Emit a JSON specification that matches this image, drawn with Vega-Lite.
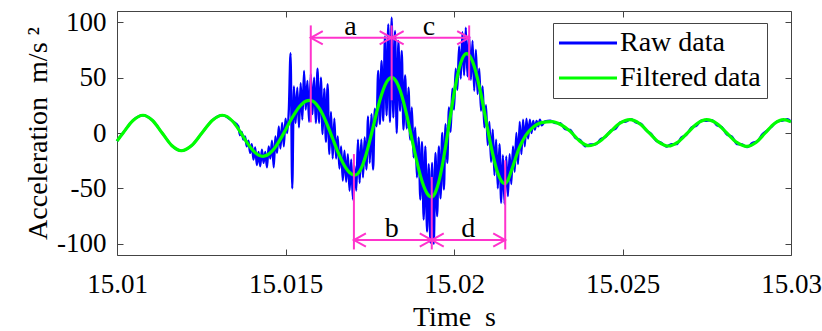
{
 "$schema": "https://vega.github.io/schema/vega-lite/v6.json",
 "width": 674, "height": 244,
 "autosize": {"type": "none"},
 "padding": {"left": 117, "top": 11, "right": 31, "bottom": 76},
 "background": "white",
 "config": {
  "view": {"stroke": "#444444", "strokeWidth": 1},
  "font": "Liberation Serif",
  "axis": {"labelFont": "Liberation Serif", "labelFontSize": 27, "labelColor": "#000000", "titleFont": "Liberation Serif", "titleFontSize": 28, "titleFontWeight": "normal", "titleColor": "#000000", "tickColor": "#444444", "tickWidth": 1, "tickSize": -6, "grid": false, "domain": false, "labelFlush": false, "labelOverlap": false, "labelBound": false}
 },
 "datasets": {
  "raw": [
   {"t":15.01,"v":-7.3,"s":"Raw data"},{"t":15.01018,"v":0,"s":"Raw data"},{"t":15.010475,"v":11.3,"s":"Raw data"},{"t":15.01077,"v":16,"s":"Raw data"},{"t":15.011055,"v":11.3,"s":"Raw data"},{"t":15.01134,"v":0,"s":"Raw data"},{"t":15.011625,"v":-11.3,"s":"Raw data"},{"t":15.01191,"v":-16,"s":"Raw data"},{"t":15.012215,"v":-11.3,"s":"Raw data"},{"t":15.01252,"v":0,"s":"Raw data"},{"t":15.012825,"v":11.3,"s":"Raw data"},{"t":15.01313,"v":16,"s":"Raw data"},{"t":15.01343,"v":10.6,"s":"Raw data"},
   {"t":15.0136,"v":6,"s":"Raw data"},{"t":15.01365,"v":-2,"s":"Raw data"},{"t":15.0137,"v":1,"s":"Raw data"},{"t":15.01375,"v":-6,"s":"Raw data"},{"t":15.0138,"v":-3,"s":"Raw data"},{"t":15.01385,"v":-12,"s":"Raw data"},{"t":15.0139,"v":-7,"s":"Raw data"},{"t":15.01395,"v":-18,"s":"Raw data"},
   {"t":15.014,"v":-10,"s":"Raw data"},{"t":15.01405,"v":-24,"s":"Raw data"},{"t":15.0141,"v":-13,"s":"Raw data"},{"t":15.01415,"v":-29,"s":"Raw data"},{"t":15.0142,"v":-17,"s":"Raw data"},{"t":15.01425,"v":-30,"s":"Raw data"},{"t":15.0143,"v":-15,"s":"Raw data"},{"t":15.01435,"v":-27,"s":"Raw data"},{"t":15.0144,"v":-17,"s":"Raw data"},{"t":15.01445,"v":-31,"s":"Raw data"},
   {"t":15.0145,"v":-12,"s":"Raw data"},{"t":15.01455,"v":-23,"s":"Raw data"},{"t":15.0146,"v":-7,"s":"Raw data"},{"t":15.01465,"v":-31,"s":"Raw data"},{"t":15.0147,"v":-3,"s":"Raw data"},{"t":15.01475,"v":-18,"s":"Raw data"},{"t":15.0148,"v":6,"s":"Raw data"},{"t":15.01485,"v":-14,"s":"Raw data"},{"t":15.0149,"v":9,"s":"Raw data"},{"t":15.01495,"v":-12,"s":"Raw data"},
   {"t":15.015,"v":13,"s":"Raw data"},{"t":15.01505,"v":0,"s":"Raw data"},{"t":15.0151,"v":22,"s":"Raw data"},{"t":15.01515,"v":72,"s":"Raw data"},{"t":15.0152,"v":-50,"s":"Raw data"},{"t":15.01525,"v":42,"s":"Raw data"},{"t":15.0153,"v":9,"s":"Raw data"},{"t":15.01535,"v":41,"s":"Raw data"},{"t":15.0154,"v":5,"s":"Raw data"},{"t":15.01545,"v":45,"s":"Raw data"},
   {"t":15.0155,"v":12,"s":"Raw data"},{"t":15.01555,"v":56,"s":"Raw data"},{"t":15.0156,"v":21,"s":"Raw data"},{"t":15.01565,"v":47,"s":"Raw data"},{"t":15.0157,"v":10,"s":"Raw data"},{"t":15.01575,"v":53,"s":"Raw data"},{"t":15.0158,"v":17,"s":"Raw data"},{"t":15.01585,"v":50,"s":"Raw data"},{"t":15.0159,"v":9,"s":"Raw data"},{"t":15.01595,"v":58,"s":"Raw data"},
   {"t":15.016,"v":9,"s":"Raw data"},{"t":15.01605,"v":50,"s":"Raw data"},{"t":15.0161,"v":-1,"s":"Raw data"},{"t":15.01615,"v":40,"s":"Raw data"},{"t":15.0162,"v":-8,"s":"Raw data"},{"t":15.01625,"v":44,"s":"Raw data"},{"t":15.0163,"v":-19,"s":"Raw data"},{"t":15.01635,"v":19,"s":"Raw data"},{"t":15.0164,"v":-23,"s":"Raw data"},{"t":15.01645,"v":13,"s":"Raw data"},
   {"t":15.0165,"v":-23,"s":"Raw data"},{"t":15.01655,"v":-3,"s":"Raw data"},{"t":15.0166,"v":-32,"s":"Raw data"},{"t":15.01665,"v":-12,"s":"Raw data"},{"t":15.0167,"v":-43,"s":"Raw data"},{"t":15.01675,"v":-16,"s":"Raw data"},{"t":15.0168,"v":-44,"s":"Raw data"},{"t":15.01685,"v":-19,"s":"Raw data"},{"t":15.0169,"v":-52,"s":"Raw data"},{"t":15.01695,"v":-24,"s":"Raw data"},
   {"t":15.017,"v":-60,"s":"Raw data"},{"t":15.01705,"v":-30,"s":"Raw data"},{"t":15.0171,"v":-52,"s":"Raw data"},{"t":15.01715,"v":-6,"s":"Raw data"},{"t":15.0172,"v":-45,"s":"Raw data"},{"t":15.01725,"v":-6,"s":"Raw data"},{"t":15.0173,"v":-40,"s":"Raw data"},{"t":15.01735,"v":-4,"s":"Raw data"},{"t":15.0174,"v":-33,"s":"Raw data"},{"t":15.01745,"v":15,"s":"Raw data"},
   {"t":15.0175,"v":-27,"s":"Raw data"},{"t":15.01755,"v":17,"s":"Raw data"},{"t":15.0176,"v":-33,"s":"Raw data"},{"t":15.01765,"v":22,"s":"Raw data"},{"t":15.0177,"v":6,"s":"Raw data"},{"t":15.01775,"v":56,"s":"Raw data"},{"t":15.0178,"v":8,"s":"Raw data"},{"t":15.01785,"v":65,"s":"Raw data"},{"t":15.0179,"v":11,"s":"Raw data"},{"t":15.01795,"v":87,"s":"Raw data"},
   {"t":15.018,"v":16,"s":"Raw data"},{"t":15.01805,"v":98,"s":"Raw data"},{"t":15.0181,"v":10,"s":"Raw data"},{"t":15.01815,"v":104,"s":"Raw data"},{"t":15.0182,"v":14,"s":"Raw data"},{"t":15.01825,"v":92,"s":"Raw data"},{"t":15.0183,"v":0,"s":"Raw data"},{"t":15.01835,"v":83,"s":"Raw data"},{"t":15.0184,"v":20,"s":"Raw data"},{"t":15.01845,"v":74,"s":"Raw data"},
   {"t":15.0185,"v":3,"s":"Raw data"},{"t":15.01855,"v":52,"s":"Raw data"},{"t":15.0186,"v":4,"s":"Raw data"},{"t":15.01865,"v":41,"s":"Raw data"},{"t":15.0187,"v":-6,"s":"Raw data"},{"t":15.01875,"v":23,"s":"Raw data"},{"t":15.0188,"v":-22,"s":"Raw data"},{"t":15.01885,"v":5,"s":"Raw data"},{"t":15.0189,"v":-40,"s":"Raw data"},{"t":15.01895,"v":-4,"s":"Raw data"},
   {"t":15.019,"v":-60,"s":"Raw data"},{"t":15.01905,"v":-8,"s":"Raw data"},{"t":15.0191,"v":-78,"s":"Raw data"},{"t":15.01915,"v":-12,"s":"Raw data"},{"t":15.0192,"v":-89,"s":"Raw data"},{"t":15.01925,"v":-28,"s":"Raw data"},{"t":15.0193,"v":-99,"s":"Raw data"},{"t":15.01935,"v":-27,"s":"Raw data"},{"t":15.0194,"v":-100,"s":"Raw data"},{"t":15.01945,"v":-18,"s":"Raw data"},
   {"t":15.0195,"v":-75,"s":"Raw data"},{"t":15.01955,"v":-12,"s":"Raw data"},{"t":15.0196,"v":-59,"s":"Raw data"},{"t":15.01965,"v":0,"s":"Raw data"},{"t":15.0197,"v":-51,"s":"Raw data"},{"t":15.01975,"v":8,"s":"Raw data"},{"t":15.0198,"v":-27,"s":"Raw data"},{"t":15.01985,"v":23,"s":"Raw data"},{"t":15.0199,"v":1,"s":"Raw data"},{"t":15.01995,"v":40,"s":"Raw data"},
   {"t":15.02,"v":21,"s":"Raw data"},{"t":15.02005,"v":58,"s":"Raw data"},{"t":15.0201,"v":39,"s":"Raw data"},{"t":15.02015,"v":78,"s":"Raw data"},{"t":15.0202,"v":49,"s":"Raw data"},{"t":15.02025,"v":91,"s":"Raw data"},{"t":15.0203,"v":52,"s":"Raw data"},{"t":15.02035,"v":95,"s":"Raw data"},{"t":15.0204,"v":51,"s":"Raw data"},{"t":15.02045,"v":88,"s":"Raw data"},
   {"t":15.0205,"v":48,"s":"Raw data"},{"t":15.02055,"v":83,"s":"Raw data"},{"t":15.0206,"v":38,"s":"Raw data"},{"t":15.02065,"v":75,"s":"Raw data"},{"t":15.0207,"v":35,"s":"Raw data"},{"t":15.02075,"v":58,"s":"Raw data"},{"t":15.0208,"v":20,"s":"Raw data"},{"t":15.02085,"v":42,"s":"Raw data"},{"t":15.0209,"v":5,"s":"Raw data"},{"t":15.02095,"v":25,"s":"Raw data"},
   {"t":15.021,"v":-11,"s":"Raw data"},{"t":15.02105,"v":10,"s":"Raw data"},{"t":15.0211,"v":-26,"s":"Raw data"},{"t":15.02115,"v":3,"s":"Raw data"},{"t":15.0212,"v":-38,"s":"Raw data"},{"t":15.02125,"v":-6,"s":"Raw data"},{"t":15.0213,"v":-50,"s":"Raw data"},{"t":15.02135,"v":-10,"s":"Raw data"},{"t":15.0214,"v":-63,"s":"Raw data"},{"t":15.02145,"v":-20,"s":"Raw data"},
   {"t":15.0215,"v":-64,"s":"Raw data"},{"t":15.02155,"v":-21,"s":"Raw data"},{"t":15.0216,"v":-57,"s":"Raw data"},{"t":15.02165,"v":-19,"s":"Raw data"},{"t":15.0217,"v":-46,"s":"Raw data"},{"t":15.02175,"v":-12,"s":"Raw data"},{"t":15.0218,"v":-35,"s":"Raw data"},{"t":15.02185,"v":0,"s":"Raw data"},{"t":15.0219,"v":-28,"s":"Raw data"},{"t":15.02195,"v":10,"s":"Raw data"},
   {"t":15.022,"v":-19,"s":"Raw data"},{"t":15.02205,"v":12,"s":"Raw data"},{"t":15.0221,"v":-12,"s":"Raw data"},{"t":15.02215,"v":13,"s":"Raw data"},{"t":15.0222,"v":-5,"s":"Raw data"},{"t":15.02225,"v":12,"s":"Raw data"},{"t":15.0223,"v":0,"s":"Raw data"},{"t":15.02235,"v":11,"s":"Raw data"},{"t":15.0224,"v":3,"s":"Raw data"},{"t":15.02245,"v":11,"s":"Raw data"},
   {"t":15.0225,"v":6,"s":"Raw data"},{"t":15.02255,"v":12,"s":"Raw data"},{"t":15.0226,"v":7,"s":"Raw data"},
   {"t":15.0227,"v":10.5,"s":"Raw data"},{"t":15.02285,"v":11.2,"s":"Raw data"},{"t":15.023,"v":9,"s":"Raw data"},{"t":15.02315,"v":8.9,"s":"Raw data"},{"t":15.0233,"v":3.4,"s":"Raw data"},{"t":15.02345,"v":2.8,"s":"Raw data"},{"t":15.0236,"v":-4.5,"s":"Raw data"},{"t":15.02375,"v":-6.5,"s":"Raw data"},{"t":15.0239,"v":-12,"s":"Raw data"},{"t":15.02405,"v":-10.2,"s":"Raw data"},
   {"t":15.0242,"v":-10.3,"s":"Raw data"},{"t":15.02435,"v":-5.5,"s":"Raw data"},{"t":15.0245,"v":-3.5,"s":"Raw data"},{"t":15.02465,"v":2.2,"s":"Raw data"},{"t":15.0248,"v":4,"s":"Raw data"},{"t":15.02495,"v":9.8,"s":"Raw data"},{"t":15.0251,"v":10.2,"s":"Raw data"},{"t":15.02525,"v":12.6,"s":"Raw data"},{"t":15.0254,"v":9.5,"s":"Raw data"},{"t":15.02555,"v":8.3,"s":"Raw data"},
   {"t":15.0257,"v":2.5,"s":"Raw data"},{"t":15.02585,"v":-0.8,"s":"Raw data"},{"t":15.026,"v":-7,"s":"Raw data"},{"t":15.02615,"v":-8.8,"s":"Raw data"},{"t":15.0263,"v":-12.3,"s":"Raw data"},{"t":15.02645,"v":-10,"s":"Raw data"},{"t":15.0266,"v":-10.1,"s":"Raw data"},{"t":15.02675,"v":-4,"s":"Raw data"},{"t":15.0269,"v":-1.5,"s":"Raw data"},{"t":15.02705,"v":5,"s":"Raw data"},
   {"t":15.0272,"v":6.8,"s":"Raw data"},{"t":15.02735,"v":11.4,"s":"Raw data"},{"t":15.0275,"v":11,"s":"Raw data"},{"t":15.02765,"v":11.6,"s":"Raw data"},{"t":15.0278,"v":7,"s":"Raw data"},{"t":15.02795,"v":5.3,"s":"Raw data"},{"t":15.0281,"v":-1.5,"s":"Raw data"},{"t":15.02825,"v":-3.2,"s":"Raw data"},{"t":15.0284,"v":-10,"s":"Raw data"},{"t":15.02855,"v":-10.3,"s":"Raw data"},
   {"t":15.0287,"v":-12.8,"s":"Raw data"},{"t":15.02885,"v":-9,"s":"Raw data"},{"t":15.029,"v":-7.5,"s":"Raw data"},{"t":15.02915,"v":-1.2,"s":"Raw data"},{"t":15.0293,"v":2.4,"s":"Raw data"},{"t":15.02945,"v":6.5,"s":"Raw data"},{"t":15.0296,"v":10.6,"s":"Raw data"},{"t":15.02975,"v":11.2,"s":"Raw data"},{"t":15.0299,"v":12.4,"s":"Raw data"},{"t":15.03,"v":10.2,"s":"Raw data"}
  ],
  "filtered": [
   {"t":15.01,"v":-7.3,"s":"Filtered data"},{"t":15.01018,"v":0,"s":"Filtered data"},{"t":15.010475,"v":11.3,"s":"Filtered data"},{"t":15.01077,"v":16,"s":"Filtered data"},{"t":15.011055,"v":11.3,"s":"Filtered data"},{"t":15.01134,"v":0,"s":"Filtered data"},{"t":15.011625,"v":-11.3,"s":"Filtered data"},{"t":15.01191,"v":-16,"s":"Filtered data"},{"t":15.012215,"v":-11.3,"s":"Filtered data"},{"t":15.01252,"v":0,"s":"Filtered data"},{"t":15.012825,"v":11.3,"s":"Filtered data"},{"t":15.01313,"v":16,"s":"Filtered data"},{"t":15.01343,"v":10.6,"s":"Filtered data"},
   {"t":15.0136,"v":3.7,"s":"Filtered data"},{"t":15.0137,"v":-1.05,"s":"Filtered data"},{"t":15.0138,"v":-5.9,"s":"Filtered data"},{"t":15.0139,"v":-10.5,"s":"Filtered data"},{"t":15.014,"v":-14.5,"s":"Filtered data"},{"t":15.0141,"v":-17.7,"s":"Filtered data"},{"t":15.0142,"v":-19.9,"s":"Filtered data"},{"t":15.01433,"v":-21,"s":"Filtered data"},{"t":15.01445,"v":-20.1,"s":"Filtered data"},{"t":15.0146,"v":-16.4,"s":"Filtered data"},
   {"t":15.0147,"v":-12.7,"s":"Filtered data"},{"t":15.0148,"v":-8,"s":"Filtered data"},{"t":15.0149,"v":-2.8,"s":"Filtered data"},{"t":15.015,"v":2.8,"s":"Filtered data"},{"t":15.0151,"v":8.5,"s":"Filtered data"},{"t":15.0152,"v":14,"s":"Filtered data"},{"t":15.0153,"v":18.9,"s":"Filtered data"},{"t":15.0154,"v":23.2,"s":"Filtered data"},{"t":15.0155,"v":26.4,"s":"Filtered data"},{"t":15.0156,"v":28.6,"s":"Filtered data"},
   {"t":15.01572,"v":29.5,"s":"Filtered data"},{"t":15.01585,"v":27.9,"s":"Filtered data"},{"t":15.016,"v":22.5,"s":"Filtered data"},{"t":15.0161,"v":17,"s":"Filtered data"},{"t":15.0162,"v":10.3,"s":"Filtered data"},{"t":15.0163,"v":2.8,"s":"Filtered data"},{"t":15.0164,"v":-5,"s":"Filtered data"},{"t":15.0165,"v":-12.9,"s":"Filtered data"},{"t":15.0166,"v":-20.2,"s":"Filtered data"},{"t":15.0167,"v":-26.7,"s":"Filtered data"},
   {"t":15.0168,"v":-31.9,"s":"Filtered data"},{"t":15.0169,"v":-35.6,"s":"Filtered data"},{"t":15.01706,"v":-38,"s":"Filtered data"},{"t":15.0172,"v":-34.5,"s":"Filtered data"},{"t":15.0173,"v":-27.9,"s":"Filtered data"},{"t":15.0174,"v":-18.5,"s":"Filtered data"},{"t":15.0175,"v":-7.1,"s":"Filtered data"},{"t":15.0176,"v":5.4,"s":"Filtered data"},{"t":15.0177,"v":17.9,"s":"Filtered data"},{"t":15.0178,"v":29.5,"s":"Filtered data"},
   {"t":15.0179,"v":39,"s":"Filtered data"},{"t":15.018,"v":46,"s":"Filtered data"},{"t":15.01815,"v":50,"s":"Filtered data"},{"t":15.0183,"v":45.8,"s":"Filtered data"},{"t":15.0184,"v":38.5,"s":"Filtered data"},{"t":15.0185,"v":28.3,"s":"Filtered data"},{"t":15.0186,"v":15.8,"s":"Filtered data"},{"t":15.0187,"v":1.9,"s":"Filtered data"},{"t":15.0188,"v":-12.4,"s":"Filtered data"},{"t":15.0189,"v":-26,"s":"Filtered data"},
   {"t":15.019,"v":-38.2,"s":"Filtered data"},{"t":15.0191,"v":-47.8,"s":"Filtered data"},{"t":15.0192,"v":-54.4,"s":"Filtered data"},{"t":15.01933,"v":-57.6,"s":"Filtered data"},{"t":15.01945,"v":-53.4,"s":"Filtered data"},{"t":15.01955,"v":-43.9,"s":"Filtered data"},{"t":15.01965,"v":-29.7,"s":"Filtered data"},{"t":15.01975,"v":-12.2,"s":"Filtered data"},{"t":15.01985,"v":7,"s":"Filtered data"},{"t":15.01995,"v":26.1,"s":"Filtered data"},
   {"t":15.02005,"v":43.6,"s":"Filtered data"},{"t":15.02015,"v":57.8,"s":"Filtered data"},{"t":15.02025,"v":67.3,"s":"Filtered data"},{"t":15.02037,"v":71.5,"s":"Filtered data"},{"t":15.0205,"v":67.8,"s":"Filtered data"},{"t":15.0206,"v":60.1,"s":"Filtered data"},{"t":15.0207,"v":48.9,"s":"Filtered data"},{"t":15.0208,"v":35,"s":"Filtered data"},{"t":15.0209,"v":19.4,"s":"Filtered data"},{"t":15.021,"v":3.3,"s":"Filtered data"},
   {"t":15.0211,"v":-12.1,"s":"Filtered data"},{"t":15.0212,"v":-25.5,"s":"Filtered data"},{"t":15.0213,"v":-36.1,"s":"Filtered data"},{"t":15.0214,"v":-42.9,"s":"Filtered data"},{"t":15.02151,"v":-45.6,"s":"Filtered data"},{"t":15.0216,"v":-42.5,"s":"Filtered data"},{"t":15.0217,"v":-34.3,"s":"Filtered data"},{"t":15.0218,"v":-25.2,"s":"Filtered data"},{"t":15.0219,"v":-16.2,"s":"Filtered data"},{"t":15.022,"v":-9.2,"s":"Filtered data"},
   {"t":15.0221,"v":-3.6,"s":"Filtered data"},{"t":15.0222,"v":0.6,"s":"Filtered data"},{"t":15.0223,"v":4,"s":"Filtered data"},{"t":15.02245,"v":7.5,"s":"Filtered data"},{"t":15.0226,"v":9.4,"s":"Filtered data"},{"t":15.0229,"v":10.2,"s":"Filtered data"},{"t":15.0232,"v":7,"s":"Filtered data"},{"t":15.02345,"v":1.5,"s":"Filtered data"},{"t":15.02372,"v":-7,"s":"Filtered data"},{"t":15.024,"v":-11.5,"s":"Filtered data"},
   {"t":15.0243,"v":-8.1,"s":"Filtered data"},{"t":15.02461,"v":0.25,"s":"Filtered data"},{"t":15.024915,"v":8.6,"s":"Filtered data"},{"t":15.02522,"v":12,"s":"Filtered data"},{"t":15.025505,"v":8.5,"s":"Filtered data"},{"t":15.02579,"v":0.15,"s":"Filtered data"},{"t":15.026075,"v":-8.2,"s":"Filtered data"},{"t":15.02636,"v":-11.7,"s":"Filtered data"},{"t":15.026645,"v":-8.2,"s":"Filtered data"},{"t":15.02693,"v":0.15,"s":"Filtered data"},
   {"t":15.027215,"v":8.5,"s":"Filtered data"},{"t":15.0275,"v":12,"s":"Filtered data"},{"t":15.0278,"v":8.5,"s":"Filtered data"},{"t":15.028095,"v":0,"s":"Filtered data"},{"t":15.02839,"v":-8.5,"s":"Filtered data"},{"t":15.02869,"v":-12,"s":"Filtered data"},{"t":15.02896,"v":-8.5,"s":"Filtered data"},{"t":15.029235,"v":0,"s":"Filtered data"},{"t":15.02951,"v":8.5,"s":"Filtered data"},{"t":15.02978,"v":12,"s":"Filtered data"},{"t":15.03,"v":10,"s":"Filtered data"}
  ],
  "vlines": [
   {"t":15.01575,"y1":9.6,"y2":97},{"t":15.01815,"y1":29.5,"y2":97},{"t":15.02045,"y1":47.5,"y2":97},
   {"t":15.01703,"y1":-19,"y2":-105},{"t":15.01934,"y1":-39.6,"y2":-105},{"t":15.02152,"y1":-24.6,"y2":-105}
  ],
  "hlines": [
   {"t1":15.01575,"t2":15.01815,"y":85.8},{"t1":15.01815,"t2":15.02045,"y":85.8},
   {"t1":15.01703,"t2":15.01934,"y":-96.5},{"t1":15.01934,"t2":15.02152,"y":-96.5}
  ],
  "heads": [
   {"t":15.01575,"y":85.8,"d":"L"},{"t":15.01815,"y":85.8,"d":"R"},{"t":15.01815,"y":85.8,"d":"L"},{"t":15.02045,"y":85.8,"d":"R"},
   {"t":15.01703,"y":-96.5,"d":"L"},{"t":15.01934,"y":-96.5,"d":"R"},{"t":15.01934,"y":-96.5,"d":"L"},{"t":15.02152,"y":-96.5,"d":"R"}
  ],
  "labels": [
   {"t":15.01693,"y":88,"lab":"a"},{"t":15.01926,"y":88,"lab":"c"},{"t":15.01815,"y":-94,"lab":"b"},{"t":15.02042,"y":-94,"lab":"d"}
  ]
 },
 "layer": [
  {
   "data": {"name": "raw"},
   "mark": {"type": "line", "interpolate": "monotone", "strokeWidth": 2.3},
   "encoding": {
    "x": {"field": "t", "type": "quantitative", "scale": {"domain": [15.01, 15.03], "nice": false, "zero": false},
          "axis": {"orient": "bottom", "values": [15.01, 15.015, 15.02, 15.025, 15.03], "labelExpr": "'' + datum.value", "labelPadding": 22, "title": "Time\u00a0\u00a0s", "titlePadding": 6}},
    "y": {"field": "v", "type": "quantitative", "scale": {"domain": [-110, 110], "nice": false, "zero": false},
          "axis": {"orient": "left", "values": [-100, -50, 0, 50, 100], "labelExpr": "'' + datum.value", "labelPadding": 17, "title": "Acceleration\u00a0\u00a0m/s\u00a0²", "titlePadding": 4}},
    "color": {"field": "s", "type": "nominal", "scale": {"domain": ["Raw data", "Filtered data"], "range": ["#0000FF", "#00FF00"]},
              "legend": {"orient": "none", "legendX": 436, "legendY": 12, "title": null, "labelFont": "Liberation Serif", "labelFontSize": 28, "labelColor": "#000000", "symbolType": "M-1.4,0H4.4", "symbolSize": 400, "symbolStrokeWidth": 3, "labelOffset": 33, "padding": 6, "rowPadding": 7, "strokeColor": "#444444", "fillColor": "white"}}
   }
  },
  {
   "data": {"name": "filtered"},
   "mark": {"type": "line", "interpolate": "monotone", "strokeWidth": 3.2},
   "encoding": {
    "x": {"field": "t", "type": "quantitative", "axis": {"orient": "top", "values": [15.01, 15.015, 15.02, 15.025, 15.03], "labels": false, "title": null}},
    "y": {"field": "v", "type": "quantitative", "axis": {"orient": "right", "values": [-100, -50, 0, 50, 100], "labels": false, "title": null}},
    "color": {"field": "s", "type": "nominal"}
   }
  },
  {
   "data": {"name": "vlines"},
   "mark": {"type": "rule", "color": "#FF33CC", "strokeWidth": 2},
   "encoding": {
    "x": {"field": "t", "type": "quantitative", "axis": null},
    "y": {"field": "y1", "type": "quantitative", "axis": null},
    "y2": {"field": "y2"}
   }
  },
  {
   "data": {"name": "hlines"},
   "mark": {"type": "rule", "color": "#FF33CC", "strokeWidth": 2},
   "encoding": {
    "x": {"field": "t1", "type": "quantitative", "axis": null},
    "x2": {"field": "t2"},
    "y": {"field": "y", "type": "quantitative", "axis": null}
   }
  },
  {
   "data": {"name": "heads"},
   "mark": {"type": "point", "filled": false, "size": 576, "strokeWidth": 2, "color": "#FF33CC", "opacity": 1},
   "encoding": {
    "x": {"field": "t", "type": "quantitative", "axis": null},
    "y": {"field": "y", "type": "quantitative", "axis": null},
    "shape": {"field": "d", "type": "nominal", "scale": {"domain": ["L", "R"], "range": ["M1,-0.55L0,0L1,0.55", "M-1,-0.55L0,0L-1,0.55"]}, "legend": null}
   }
  },
  {
   "data": {"name": "labels"},
   "mark": {"type": "text", "font": "Liberation Serif", "fontSize": 28, "baseline": "alphabetic", "align": "center", "color": "#000000"},
   "encoding": {
    "x": {"field": "t", "type": "quantitative", "axis": null},
    "y": {"field": "y", "type": "quantitative", "axis": null},
    "text": {"field": "lab"}
   }
  }
 ],
 "resolve": {"axis": {"x": "independent", "y": "independent"}}
}
